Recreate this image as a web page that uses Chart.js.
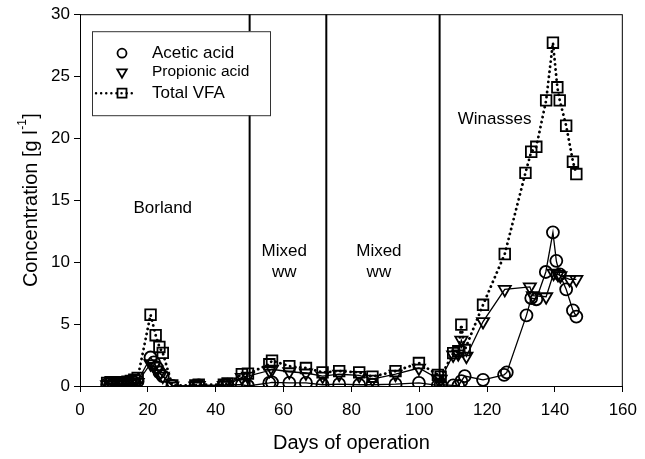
<!DOCTYPE html>
<html><head><meta charset="utf-8">
<script src="https://cdn.jsdelivr.net/npm/chart.js@4.4.0/dist/chart.umd.min.js"></script>
<style>html,body{margin:0;padding:0;background:#fff}#wrap{width:645px;height:459px}</style>
</head><body><div id="wrap"><canvas id="c" width="645" height="459"></canvas></div>
<script>
// ---------- data ----------
const aceticDays = [8, 9, 10, 11, 12, 13, 14, 15, 16, 17, 20.8, 21.8, 22.6, 23.4, 24.4, 27.2, 34, 35, 42.4, 43.5, 47.7, 49.5, 55.8, 56.6, 61.7, 66.6, 71.5, 76.4, 82.3, 86.2, 93, 99.9, 105.5, 106.3, 110, 111.5, 112.4, 113.4, 118.8, 125, 125.8, 131.6, 133, 134.5, 137.3, 139.4, 140.4, 141.4, 143.3, 145.3, 146.3];
const aceticValues = [0.15, 0.2, 0.15, 0.2, 0.15, 0.2, 0.2, 0.25, 0.3, 0.4, 2.3, 1.9, 1.5, 1.1, 0.8, 0.0, 0.0, 0.05, 0.05, 0.1, 0.1, 0.0, 0.25, 0.3, 0.25, 0.25, 0.1, 0.15, 0.1, 0.1, 0.15, 0.25, 0.05, 0.1, 0.05, 0.0, 0.4, 0.8, 0.5, 0.9, 1.1, 5.7, 7.1, 7.0, 9.2, 12.4, 10.1, 9.0, 7.8, 6.1, 5.6];

const propionicDays = [8, 9, 10, 11, 12, 13, 14, 15, 16, 17, 20.8, 21.8, 22.6, 23.4, 24.4, 27.2, 34, 35, 42.4, 43.5, 47.7, 49.5, 55.8, 56.6, 61.7, 66.6, 71.5, 76.4, 82.3, 86.2, 93, 99.9, 105.5, 106.3, 110, 111.5, 112.4, 113.9, 118.8, 125.2, 132.6, 133.5, 137.4, 139.6, 140.9, 141.6, 144.3, 146.3];
const propionicValues = [0.1, 0.15, 0.1, 0.15, 0.1, 0.15, 0.15, 0.2, 0.25, 0.3, 1.8, 1.6, 1.3, 1.0, 0.8, 0.0, 0.0, 0.05, 0.05, 0.1, 0.7, 0.8, 1.25, 1.35, 1.15, 1.05, 0.8, 0.95, 0.85, 0.55, 0.95, 1.45, 0.6, 0.55, 2.5, 2.6, 3.7, 2.4, 5.2, 7.8, 8.0, 7.3, 7.2, 9.1, 9.0, 8.9, 8.6, 8.6];

const totalDays = [8, 9, 10, 11, 12, 13, 14, 15, 16, 17, 20.8, 22.3, 23.4, 24.4, 27.2, 34, 35, 42.4, 43.5, 47.7, 49.5, 55.8, 56.6, 61.7, 66.6, 71.5, 76.4, 82.3, 86.2, 93, 99.9, 105.5, 106.3, 110, 111.5, 112.4, 113.4, 118.8, 125.2, 131.3, 133, 134.5, 137.4, 139.4, 140.7, 141.4, 143.3, 145.3, 146.3];
const totalValues = [0.25, 0.3, 0.25, 0.3, 0.25, 0.3, 0.35, 0.4, 0.5, 0.65, 5.75, 4.1, 3.15, 2.67, 0.05, 0.05, 0.1, 0.1, 0.2, 0.95, 1.0, 1.75, 2.05, 1.6, 1.45, 1.1, 1.2, 1.1, 0.75, 1.2, 1.85, 0.9, 0.75, 2.65, 2.8, 4.95, 2.9, 6.55, 10.65, 17.2, 18.9, 19.3, 23.05, 27.7, 24.1, 23.05, 21.0, 18.1, 17.1];

const seriesNames = ["Acetic acid", "Propionic acid", "Total VFA"];
const phaseBoundaryDays = [50, 72.6, 106];
const phaseLabels = ["Borland", "Mixed\nww", "Mixed\nww", "Winasses"];
const phaseLabelDays = [24.4, 60.2, 88.1, 122.2];
const phaseLabelLevels = [14.3, 10.9, 10.9, 21.5];
const xTicks = [0, 20, 40, 60, 80, 100, 120, 140, 160];
const yTicks = [0, 5, 10, 15, 20, 25, 30];
const xTitle = "Days of operation";
const yTitleMain = "Concentration [g l";
const yTitleSup = "-1";
const yTitleEnd = "]";

// ---------- chart ----------
const FONT = '"Liberation Sans", Arial, sans-serif';
const toPts = (xs, ys) => xs.map((d, i) => ({x: d, y: ys[i]}));

const datasets = [
  {label: seriesNames[0], data: toPts(aceticDays, aceticValues), borderColor: '#000', borderWidth: 1.3,
   pointStyle: 'circle', pointRadius: 6, pointBorderWidth: 1.8, pointBackgroundColor: 'rgba(0,0,0,0)', pointBorderColor: '#000', tension: 0},
  {label: seriesNames[1], data: toPts(propionicDays, propionicValues), borderColor: '#000', borderWidth: 1.3,
   pointStyle: 'triangle', pointRotation: 180, pointRadius: 7, pointBorderWidth: 1.8, pointBackgroundColor: 'rgba(0,0,0,0)', pointBorderColor: '#000', tension: 0},
  {label: seriesNames[2], data: toPts(totalDays, totalValues), borderColor: '#000', borderWidth: 2.8, borderDash: [0.1, 5], borderCapStyle: 'round',
   pointStyle: 'rect', pointRadius: 7.5, pointBorderWidth: 1.8, pointBackgroundColor: 'rgba(0,0,0,0)', pointBorderColor: '#000', tension: 0}
];
phaseBoundaryDays.forEach(d => datasets.push({
  label: '', data: [{x: d, y: yTicks[0]}, {x: d, y: yTicks[yTicks.length - 1]}],
  borderColor: '#000', borderWidth: 2, pointRadius: 0, tension: 0
}));

function drawSymbol(ctx, kind, cx, cy) {
  ctx.save();
  ctx.strokeStyle = '#000'; ctx.lineWidth = 1.8;
  ctx.beginPath();
  if (kind === 0) { ctx.arc(cx, cy, 4.5, 0, Math.PI * 2); }
  else if (kind === 1) { const r = 5.5; ctx.moveTo(cx - r * 0.866, cy - r * 0.5); ctx.lineTo(cx + r * 0.866, cy - r * 0.5); ctx.lineTo(cx, cy + r); ctx.closePath(); }
  else { ctx.rect(cx - 4.5, cy - 4.5, 9, 9); }
  ctx.stroke();
  ctx.restore();
}

const overlay = {
  id: 'overlay',
  afterDraw(chart) {
    const {ctx, chartArea: a, scales: {x, y}} = chart;
    ctx.save();
    ctx.strokeStyle = '#000'; ctx.lineWidth = 1;
    ctx.strokeRect(a.left + 0.5, a.top + 0.5, a.right - a.left - 1, a.bottom - a.top);
    ctx.fillStyle = '#000';
    ctx.font = '17px ' + FONT;
    ctx.textAlign = 'center'; ctx.textBaseline = 'middle';
    phaseLabels.forEach((lab, i) => {
      lab.split('\n').forEach((t, j) => {
        ctx.fillText(t, x.getPixelForValue(phaseLabelDays[i]), y.getPixelForValue(phaseLabelLevels[i]) + j * 21);
      });
    });
    const lx = a.left + 12, ly = a.top + 17, lw = 178, lh = 84;
    ctx.fillStyle = '#fff';
    ctx.fillRect(lx, ly, lw, lh);
    ctx.strokeStyle = '#333'; ctx.lineWidth = 1;
    ctx.strokeRect(lx + 0.5, ly + 0.5, lw, lh);
    const rows = [ly + 22, ly + 41, ly + 62];
    const sizes = [17, 15.5, 17];
    const sx = lx + 30;
    ctx.save();
    ctx.strokeStyle = '#000'; ctx.lineWidth = 2.4; ctx.lineCap = 'round'; ctx.setLineDash([0.1, 5]);
    ctx.beginPath(); ctx.moveTo(sx - 26, rows[2]); ctx.lineTo(sx + 14, rows[2]); ctx.stroke();
    ctx.restore();
    rows.forEach((ry, i) => {
      drawSymbol(ctx, i, sx, ry);
      ctx.fillStyle = '#000';
      ctx.font = sizes[i] + 'px ' + FONT;
      ctx.textAlign = 'left'; ctx.textBaseline = 'middle';
      ctx.fillText(seriesNames[i], lx + 60, ry);
    });
    ctx.fillStyle = '#000';
    ctx.font = '20px ' + FONT;
    ctx.textAlign = 'center'; ctx.textBaseline = 'middle';
    ctx.fillText(xTitle, (a.left + a.right) / 2, 443);
    ctx.save();
    ctx.translate(31, (a.top + a.bottom) / 2);
    ctx.rotate(-Math.PI / 2);
    ctx.font = '20px ' + FONT;
    const w1 = ctx.measureText(yTitleMain).width;
    const w3 = ctx.measureText(yTitleEnd).width;
    ctx.font = '12px ' + FONT;
    const w2 = ctx.measureText(yTitleSup).width;
    const total = w1 + w2 + w3 + 1;
    let px = -total / 2;
    ctx.textAlign = 'left'; ctx.textBaseline = 'middle';
    ctx.font = '20px ' + FONT;
    ctx.fillText(yTitleMain, px, 0); px += w1 + 0.5;
    ctx.font = '12px ' + FONT;
    ctx.fillText(yTitleSup, px, -8); px += w2 + 0.5;
    ctx.font = '20px ' + FONT;
    ctx.fillText(yTitleEnd, px, 0);
    ctx.restore();
    ctx.restore();
  }
};

new Chart(document.getElementById('c'), {
  type: 'line',
  data: {datasets},
  options: {
    responsive: false, animation: false, devicePixelRatio: 1,
    layout: {padding: {top: 12, right: 17, left: 0, bottom: 0}},
    plugins: {legend: {display: false}, tooltip: {enabled: false}},
    scales: {
      x: {
        type: 'linear', min: xTicks[0], max: xTicks[xTicks.length - 1],
        afterBuildTicks: s => { s.ticks = xTicks.map(v => ({value: v})); },
        afterFit: s => { s.height = 73; },
        ticks: {color: '#000', font: {size: 17, family: FONT}, padding: 8, maxRotation: 0},
        grid: {drawOnChartArea: false, drawTicks: true, tickLength: 6, color: '#000'},
        border: {display: true, color: '#000', width: 1}
      },
      y: {
        type: 'linear', min: yTicks[0], max: yTicks[yTicks.length - 1],
        afterBuildTicks: s => { s.ticks = yTicks.map(v => ({value: v})); },
        afterFit: s => { s.width = 80; },
        ticks: {color: '#000', font: {size: 17, family: FONT}, padding: 4},
        grid: {drawOnChartArea: false, drawTicks: true, tickLength: 6, color: '#000'},
        border: {display: true, color: '#000', width: 1}
      }
    }
  },
  plugins: [overlay]
});
</script>
</body></html>
